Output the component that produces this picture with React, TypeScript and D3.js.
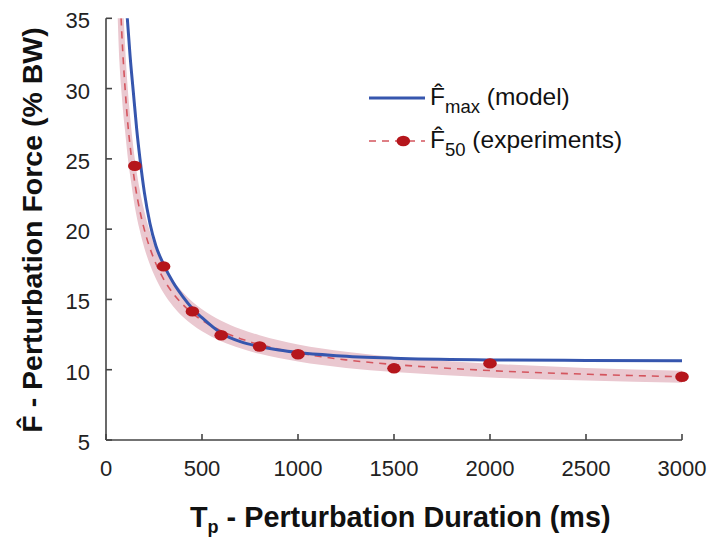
import React from "react";
import * as d3 from "d3";

// ---- data ----
const X_TICKS = [0, 500, 1000, 1500, 2000, 2500, 3000];
const Y_TICKS = [5, 10, 15, 20, 25, 30, 35];

// model curve (F_max)
const T_MODEL = [105, 111, 125, 142, 160, 177, 200, 229, 260, 300, 350, 400, 450, 500, 600, 700, 800, 900, 1000, 1200, 1500, 2000, 2500, 3000];
const F_MODEL = [36.2, 35, 32.4, 29.8, 27.1, 25.0, 22.6, 20.4, 18.8, 17.5, 16.2, 15.2, 14.35, 13.7, 12.6, 12.0, 11.65, 11.4, 11.22, 11.0, 10.82, 10.7, 10.66, 10.64];

// experimental fit (F_50) and its band
const T_FIT = [60, 70, 78, 82, 90, 100, 115, 130, 150, 175, 200, 250, 300, 350, 400, 450, 500, 600, 700, 800, 900, 1000, 1250, 1500, 1750, 2000, 2500, 3000];
const F_FIT = [42.4, 37.9, 35.2, 34.0, 32.0, 29.9, 27.3, 25.4, 23.3, 21.4, 19.95, 17.87, 16.45, 15.42, 14.64, 14.02, 13.52, 12.76, 12.21, 11.79, 11.46, 11.19, 10.70, 10.37, 10.13, 9.94, 9.68, 9.5];
const F_BAND_UPPER = [49.4, 43.9, 40.2, 38.5, 35.8, 32.9, 29.7, 27.4, 25.0, 22.85, 21.25, 18.97, 17.45, 16.34, 15.51, 14.84, 14.30, 13.49, 12.90, 12.45, 12.09, 11.80, 11.27, 10.91, 10.64, 10.43, 10.13, 9.92];
const F_BAND_LOWER = [35.4, 31.9, 30.2, 29.5, 28.2, 26.9, 24.9, 23.4, 21.6, 19.95, 18.65, 16.77, 15.45, 14.50, 13.77, 13.20, 12.74, 12.03, 11.52, 11.13, 10.83, 10.58, 10.13, 9.83, 9.62, 9.45, 9.23, 9.08];

// experiments
const T_EXP = [150, 300, 450, 600, 800, 1000, 1500, 2000, 3000];
const F_EXP = [24.5, 17.35, 14.15, 12.45, 11.65, 11.1, 10.1, 10.45, 9.5];

const W = 708;
const H = 538;
const X0 = 106, X1 = 682, Y0 = 440, Y1 = 18.3;

const BLUE = "#3656ae";
const RED_DOT = "#b5161c";
const RED_DASH = "#d4555e";
const BAND = "#eac8d0";
const AXIS = "#444444";
const FONT = "'Liberation Sans', Arial, sans-serif";

export default function App() {
  const x = d3.scaleLinear().domain([0, 3000]).range([X0, X1]);
  const y = d3.scaleLinear().domain([5, 35]).range([Y0, Y1]);

  const model = T_MODEL.map((t, i) => [t, F_MODEL[i]] as [number, number]);
  const fit = T_FIT.map((t, i) => [t, F_FIT[i]] as [number, number]);
  const band = T_FIT.map((t, i) => ({ t, lo: F_BAND_LOWER[i], hi: F_BAND_UPPER[i] }));

  const line = d3
    .line<[number, number]>()
    .x((d) => x(d[0]))
    .y((d) => y(d[1]))
    .curve(d3.curveMonotoneX);

  const area = d3
    .area<{ t: number; lo: number; hi: number }>()
    .x((d) => x(d.t))
    .y0((d) => y(d.lo))
    .y1((d) => y(d.hi))
    .curve(d3.curveMonotoneX);

  const legX = 369;
  const legX2 = 425;
  const row1 = 98;
  const row2 = 141;

  return (
    <svg
      width={W}
      height={H}
      style={{ position: "absolute", left: 0, top: 0, background: "#fff" }}
      fontFamily={FONT}
    >
      <defs>
        <clipPath id="plotclip">
          <rect x={X0} y={Y1} width={X1 - X0 + 10} height={Y0 - Y1} />
        </clipPath>
      </defs>

      <g clipPath="url(#plotclip)">
        <path d={area(band) || ""} fill={BAND} stroke="none" />
        <path
          d={line(fit) || ""}
          fill="none"
          stroke={RED_DASH}
          strokeWidth={1.6}
          strokeDasharray="7,6"
        />
        <path d={line(model) || ""} fill="none" stroke={BLUE} strokeWidth={3} />
        {T_EXP.map((t, i) => (
          <ellipse key={i} cx={x(t)} cy={y(F_EXP[i])} rx={6.8} ry={5.2} fill={RED_DOT} />
        ))}
      </g>

      {/* axes */}
      <g stroke={AXIS} strokeWidth={1.6} fill="none">
        <line x1={X0} y1={Y0} x2={X1} y2={Y0} />
        <line x1={X0} y1={Y0} x2={X0} y2={Y1} />
        {X_TICKS.map((t) => (
          <line key={"xt" + t} x1={x(t)} x2={x(t)} y1={Y0} y2={Y0 - 6} />
        ))}
        {Y_TICKS.map((t) => (
          <line key={"yt" + t} x1={X0} x2={X0 + 6} y1={y(t)} y2={y(t)} />
        ))}
      </g>
      {X_TICKS.map((t) => (
        <text key={"xl" + t} x={x(t)} y={476} fontSize={22} textAnchor="middle" fill="#222">
          {t}
        </text>
      ))}
      {Y_TICKS.map((t) => (
        <text key={"yl" + t} x={90} y={y(t) + 10} fontSize={22} textAnchor="end" fill="#222">
          {t}
        </text>
      ))}

      {/* axis titles */}
      <text x={190} y={527} fontSize={28.8} fontWeight="bold" fill="#111">
        T
        <tspan fontSize={18} dy={6}>p</tspan>
        <tspan dy={-6}> - Perturbation Duration (ms)</tspan>
      </text>
      <text
        transform={`translate(42,${230}) rotate(-90)`}
        textAnchor="middle"
        fontSize={28.5}
        fontWeight="bold"
        fill="#111"
      >
        {"F\u0302 - Perturbation Force (% BW)"}
      </text>

      {/* legend */}
      <line x1={legX} x2={legX2} y1={row1} y2={row1} stroke={BLUE} strokeWidth={3} />
      <text x={430} y={row1 + 7} fontSize={24.5} fill="#111">
        {"F\u0302"}
        <tspan fontSize={18.5} dy={8}>max</tspan>
        <tspan dy={-8}> (model)</tspan>
      </text>
      <line
        x1={legX}
        x2={legX2}
        y1={row2}
        y2={row2}
        stroke={RED_DASH}
        strokeWidth={1.6}
        strokeDasharray="7,6"
      />
      <ellipse cx={403.3} cy={row2} rx={6.8} ry={5.2} fill={RED_DOT} />
      <text x={430} y={row2 + 7} fontSize={24.5} fill="#111">
        {"F\u0302"}
        <tspan fontSize={18.5} dy={8}>50</tspan>
        <tspan dy={-8}> (experiments)</tspan>
      </text>
    </svg>
  );
}
